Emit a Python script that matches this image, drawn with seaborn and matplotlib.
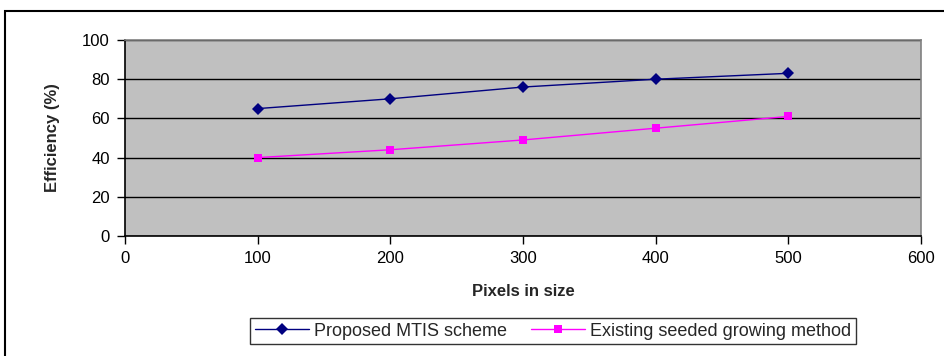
import numpy as np
import pandas as pd
import seaborn as sns
import matplotlib.pyplot as plt
from matplotlib.patches import Rectangle

# data
PIXELS = [100, 200, 300, 400, 500]
PROPOSED = [65, 70, 76, 80, 83]
EXISTING = [40, 44, 49, 55, 61]
SERIES = ['Proposed MTIS scheme', 'Existing seeded growing method']

df = pd.DataFrame({
    'Pixels': PIXELS * 2,
    'Efficiency': PROPOSED + EXISTING,
    'Series': [SERIES[0]] * len(PIXELS) + [SERIES[1]] * len(PIXELS),
})

sns.set_style('white')
plt.rcParams['font.family'] = ['Liberation Sans', 'DejaVu Sans']

fig = plt.figure(figsize=(9.44, 3.56), dpi=100)
ax = fig.add_axes([125 / 944, 1 - 236 / 356, (921 - 125) / 944, (236 - 40) / 356])

sns.lineplot(data=df, x='Pixels', y='Efficiency', hue='Series', style='Series',
             palette={SERIES[0]: '#000080', SERIES[1]: '#FF00FF'},
             markers={SERIES[0]: 'D', SERIES[1]: 's'},
             dashes=False, markersize=6, linewidth=1, markeredgewidth=0,
             ax=ax)

ax.set_facecolor('#C0C0C0')
ax.set_xlim(0, 600)
ax.set_ylim(0, 100)
ax.set_xticks(np.arange(0, 601, 100))
ax.set_yticks(np.arange(0, 101, 20))
ax.yaxis.grid(True, color='black', linewidth=1)
ax.set_axisbelow(True)
for s in ax.spines.values():
    s.set_color('#808080')
    s.set_linewidth(1.2)
ax.spines['left'].set_color('black')
ax.spines['bottom'].set_color('black')
ax.tick_params(axis='both', direction='out', length=6, width=1, colors='black',
               labelsize=12, pad=5, left=True, bottom=True)

ax.set_xlabel('Pixels in size', fontsize=12, fontweight='bold', labelpad=13)
ax.set_ylabel('Efficiency (%)', fontsize=12, fontweight='bold', labelpad=16)

handles, labels = ax.get_legend_handles_labels()
ax.legend_.remove()
leg = fig.legend(handles, labels, ncol=2, loc='center',
                 bbox_to_anchor=(553 / 944, 1 - 331 / 356),
                 frameon=True, fancybox=False, fontsize=13,
                 handlelength=3.0, columnspacing=1.3, handletextpad=0.3,
                 borderpad=0.25, borderaxespad=0)
leg.get_frame().set_edgecolor('black')
leg.get_frame().set_linewidth(1)

# outer chart border (cut off at right and bottom)
fig.patches.append(Rectangle((5 / 944, -0.05), 1.0, 1 - 11 / 356 + 0.05,
                             transform=fig.transFigure, fill=False,
                             edgecolor='black', linewidth=1.5))

fig.savefig('out.png', dpi=100)
